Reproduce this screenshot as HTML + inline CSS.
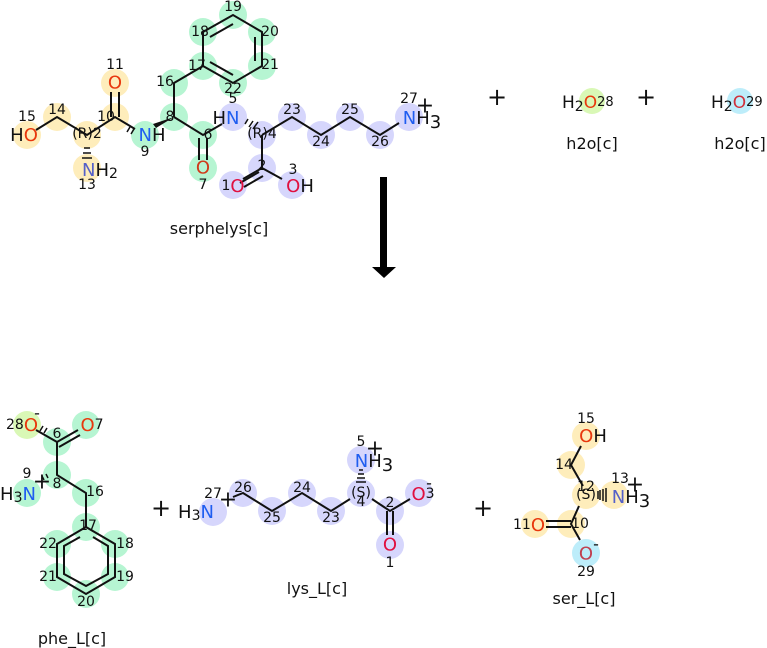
<!DOCTYPE html>
<html><head><meta charset="utf-8"><style>
html,body{margin:0;padding:0;background:#fff;}
svg{display:block;font-size:18px;}
text{font-family:"DejaVu Sans","Liberation Sans",sans-serif;}
.n{font-size:14px;fill:#111;text-anchor:middle;dominant-baseline:central;}
.a{text-anchor:middle;dominant-baseline:central;}
.lbl{font-size:16px;fill:#111;text-anchor:middle;}
.b{stroke:#111;stroke-width:2;fill:none;}
.y{fill:#feedbb;} .g{fill:#b6f5d2;} .p{fill:#d6d6fc;} .lg{fill:#d9f8b6;} .c{fill:#bdedfa;}
</style></head><body>
<svg width="767" height="648" viewBox="0 0 767 648" xmlns="http://www.w3.org/2000/svg">
<g>
<circle class="y" cx="27" cy="135" r="14"/><circle class="y" cx="57" cy="117" r="14"/><circle class="y" cx="87" cy="135" r="14"/>
<circle class="y" cx="87" cy="168" r="14"/><circle class="y" cx="115" cy="117" r="14"/><circle class="y" cx="115" cy="83" r="14"/>
<circle class="g" cx="145" cy="135" r="14"/><circle class="g" cx="174" cy="117" r="14"/><circle class="g" cx="174" cy="83" r="14"/>
<circle class="g" cx="203" cy="66" r="14"/><circle class="g" cx="203" cy="32" r="14"/><circle class="g" cx="233" cy="15" r="14"/>
<circle class="g" cx="262" cy="32" r="14"/><circle class="g" cx="262" cy="66" r="14"/><circle class="g" cx="233" cy="83" r="14"/>
<circle class="g" cx="203" cy="135" r="14"/><circle class="g" cx="203" cy="168" r="14"/>
<circle class="p" cx="233" cy="117" r="14"/><circle class="p" cx="262" cy="135" r="14"/><circle class="p" cx="262" cy="168" r="14"/>
<circle class="p" cx="233" cy="185" r="14"/><circle class="p" cx="292" cy="185" r="14"/><circle class="p" cx="292" cy="117" r="14"/>
<circle class="p" cx="321" cy="135" r="14"/><circle class="p" cx="350" cy="117" r="14"/><circle class="p" cx="380" cy="135" r="14"/>
<circle class="p" cx="409" cy="117" r="14"/>
<path class="b" d="M36 130 L57 117 L87 135 L115 117 L135 129 M174 117 L174 83 L203 66 L203 32 L233 15 L262 32 L262 66 L233 83 L203 66 M174 117 L203 135 L222 124 M262 135 L262 168 L243 179 M262 168 L282 179 M262 135 L292 117 L321 135 L350 117 L380 135 L399 123"/>
<path class="b" d="M111 117 L111 92 M119 117 L119 92 M199 138 L199 160 M207 138 L207 160 M210 37 L233 24 M255 37 L255 61 M233 75 L210 62 M259 172 L240 183 M263 176 L244 187"/>
<polygon points="174,117 156,128 153,124" fill="#111"/>
<path stroke="#111" stroke-width="1.5" d="M84 148h6M83 153h8M82 158h10M245 124l3-5M249 127l4-6M253 129l5-7M130 127l-3 5M134 129l-3 5"/>
<text class="n" x="57" y="110">14</text><text class="n" x="27" y="117">15</text>
<text class="a" x="24" y="135"><tspan fill="#111">H</tspan><tspan fill="#e8380d">O</tspan></text>
<text class="n" x="87" y="134" fill="#777">(R)2</text>
<text class="a" x="100" y="170"><tspan fill="#5561c8">N</tspan><tspan fill="#111">H</tspan><tspan fill="#111" font-size="14" dy="4">2</tspan></text>
<text class="n" x="87" y="185">13</text>
<text class="n" x="106" y="117">10</text><text class="n" x="115" y="65">11</text>
<text class="a" x="115" y="83" fill="#e8380d">O</text>
<text class="a" x="152" y="135"><tspan fill="#1f5df0">N</tspan><tspan fill="#111">H</tspan></text>
<text class="n" x="145" y="152">9</text><text class="n" x="170" y="117">8</text><text class="n" x="165" y="82">16</text>
<text class="n" x="197" y="66">17</text><text class="n" x="200" y="32">18</text><text class="n" x="233" y="7">19</text>
<text class="n" x="270" y="32">20</text><text class="n" x="270" y="65">21</text><text class="n" x="233" y="89">22</text>
<text class="n" x="208" y="135">6</text><text class="a" x="203" y="168" fill="#d03a1a">O</text><text class="n" x="203" y="185">7</text>
<text class="n" x="233" y="99">5</text>
<text class="a" x="226" y="118"><tspan fill="#111">H</tspan><tspan fill="#1f5df0">N</tspan></text>
<text class="n" x="262" y="134" fill="#555">(R)4</text><text class="n" x="262" y="166">2</text>
<text class="a" x="233" y="186"><tspan fill="#111" font-size="14">1</tspan><tspan fill="#e01040">O</tspan></text>
<text class="n" x="293" y="170">3</text>
<text class="a" x="300" y="186"><tspan fill="#e01040">O</tspan><tspan fill="#111">H</tspan></text>
<text class="n" x="292" y="110">23</text><text class="n" x="321" y="142">24</text><text class="n" x="350" y="110">25</text><text class="n" x="380" y="142">26</text>
<text class="n" x="409" y="99">27</text>
<text class="a" x="422" y="118"><tspan fill="#1f5df0">N</tspan><tspan fill="#111">H</tspan><tspan fill="#111" dy="4">3</tspan></text>
<text class="a" x="425" y="106" fill="#111" font-size="22">+</text>
<text class="lbl" x="219" y="234">serphelys[c]</text>
</g>
<text class="a" x="497" y="97" fill="#111" font-size="24">+</text>
<text class="a" x="646" y="97" fill="#111" font-size="24">+</text>
<circle class="lg" cx="592" cy="101" r="13"/><circle class="c" cx="740" cy="101" r="13"/>
<text x="562" y="108" font-size="17"><tspan fill="#111">H</tspan><tspan fill="#111" font-size="14" dy="3">2</tspan><tspan fill="#e8380d" dy="-3">O</tspan><tspan fill="#111" font-size="13" dy="-2">28</tspan></text>
<text x="711" y="108" font-size="17"><tspan fill="#111">H</tspan><tspan fill="#111" font-size="14" dy="3">2</tspan><tspan fill="#d0303a" dy="-3">O</tspan><tspan fill="#111" font-size="13" dy="-2">29</tspan></text>
<text class="lbl" x="592" y="149">h2o[c]</text><text class="lbl" x="740" y="149">h2o[c]</text>
<rect x="380" y="177" width="7" height="91" fill="#000"/>
<polygon points="372,267 396,267 384,278" fill="#000"/>
<circle class="lg" cx="27" cy="425" r="14"/><circle class="g" cx="86" cy="425" r="14"/><circle class="g" cx="57" cy="442" r="14"/>
<circle class="g" cx="57" cy="475" r="14"/><circle class="g" cx="27" cy="493" r="14"/><circle class="g" cx="86" cy="493" r="14"/>
<circle class="g" cx="86" cy="527" r="14"/><circle class="g" cx="115" cy="544" r="14"/><circle class="g" cx="115" cy="577" r="14"/>
<circle class="g" cx="86" cy="594" r="14"/><circle class="g" cx="57" cy="577" r="14"/><circle class="g" cx="57" cy="544" r="14"/>
<path class="b" d="M36 430 L57 442 L57 475 L86 493 L86 527 L115 544 L115 577 L86 594 L57 577 L57 544 L86 527 M57 442 L78 430 M59 447 L80 435 M93 537 L108 546 L108 574 L86 586 L64 574 L64 546 L80 537"/>
<path stroke="#111" stroke-width="1.5" d="M40 431l3-5M44 433l3-5M48 478l-2 -4M44 480l-2-4"/>
<text class="a" x="22" y="425"><tspan fill="#111" font-size="14">28</tspan><tspan fill="#e8380d">O</tspan></text>
<text class="a" x="37" y="413" fill="#111" font-size="16">-</text>
<text class="a" x="92" y="425"><tspan fill="#e8380d">O</tspan><tspan fill="#111" font-size="14">7</tspan></text>
<text class="n" x="57" y="434">6</text><text class="n" x="57" y="484">8</text><text class="n" x="27" y="474">9</text>
<text class="a" x="18" y="494"><tspan fill="#111">H</tspan><tspan fill="#111" font-size="14" dy="4">3</tspan><tspan fill="#1f5df0" dy="-4">N</tspan></text>
<text class="a" x="42" y="482" fill="#111" font-size="22">+</text>
<text class="n" x="95" y="492">16</text><text class="n" x="88" y="526">17</text><text class="n" x="125" y="544">18</text>
<text class="n" x="125" y="577">19</text><text class="n" x="86" y="602">20</text><text class="n" x="48" y="577">21</text><text class="n" x="48" y="544">22</text>
<text class="lbl" x="72" y="644">phe_L[c]</text>
<text class="a" x="161" y="508" fill="#111" font-size="24">+</text>
<circle class="p" cx="213" cy="512" r="14"/><circle class="p" cx="243" cy="493" r="14"/><circle class="p" cx="272" cy="511" r="14"/>
<circle class="p" cx="302" cy="493" r="14"/><circle class="p" cx="331" cy="511" r="14"/><circle class="p" cx="361" cy="493" r="14"/>
<circle class="p" cx="361" cy="460" r="14"/><circle class="p" cx="390" cy="511" r="14"/><circle class="p" cx="419" cy="493" r="14"/>
<circle class="p" cx="390" cy="545" r="14"/>
<path class="b" d="M233 497 L243 493 L272 511 L302 493 L331 511 L350 499 M372 499 L390 511 L410 499 M387 511 L387 535 M393 511 L393 535"/>
<path stroke="#111" stroke-width="1.5" d="M356 482h10M357 478h8M358 474h6M359 470h4"/>
<text class="a" x="196" y="512"><tspan fill="#111">H</tspan><tspan fill="#111" font-size="14" dy="4">3</tspan><tspan fill="#1f5df0" dy="-4">N</tspan></text>
<text class="n" x="213" y="494">27</text><text class="a" x="228" y="500" fill="#111" font-size="22">+</text>
<text class="n" x="243" y="488">26</text><text class="n" x="272" y="518">25</text><text class="n" x="302" y="488">24</text>
<text class="n" x="331" y="518">23</text><text class="n" x="361" y="493" fill="#555">(S)</text><text class="n" x="361" y="502">4</text>
<text class="n" x="390" y="503">2</text><text class="n" x="361" y="442">5</text>
<text class="a" x="374" y="461"><tspan fill="#1f5df0">N</tspan><tspan fill="#111">H</tspan><tspan fill="#111" dy="4">3</tspan></text>
<text class="a" x="375" y="449" fill="#111" font-size="22">+</text>
<text class="a" x="423" y="494"><tspan fill="#e01040">O</tspan><tspan fill="#111" font-size="14">3</tspan></text>
<text class="a" x="429" y="483" fill="#111" font-size="16">-</text>
<text class="a" x="390" y="545" fill="#e01040">O</text><text class="n" x="390" y="563">1</text>
<text class="lbl" x="317" y="594">lys_L[c]</text>
<text class="a" x="483" y="508" fill="#111" font-size="24">+</text>
<circle class="y" cx="586" cy="436" r="14"/><circle class="y" cx="571" cy="465" r="14"/><circle class="y" cx="586" cy="495" r="14"/>
<circle class="y" cx="614" cy="495" r="14"/><circle class="y" cx="571" cy="524" r="14"/><circle class="y" cx="535" cy="524" r="14"/>
<circle class="c" cx="586" cy="553" r="14"/>
<path class="b" d="M581 446 L571 465 L583 486 M579 506 L571 524 L580 540 M546 521 L571 521 M546 527 L571 527"/>
<path stroke="#111" stroke-width="1.5" d="M600 490v10M603 489v12M606 488v14M598 491v8"/>
<text class="n" x="586" y="419">15</text>
<text class="a" x="593" y="436"><tspan fill="#e8380d">O</tspan><tspan fill="#111">H</tspan></text>
<text class="n" x="564" y="465">14</text><text class="n" x="586" y="495" fill="#555">(S)</text><text class="n" x="586" y="487">12</text>
<text class="n" x="620" y="479">13</text>
<text class="a" x="631" y="497"><tspan fill="#5561c8">N</tspan><tspan fill="#111">H</tspan><tspan fill="#111" dy="4">3</tspan></text>
<text class="a" x="635" y="485" fill="#111" font-size="22">+</text>
<text class="a" x="529" y="525"><tspan fill="#111" font-size="14">11</tspan><tspan fill="#e8380d">O</tspan></text>
<text class="n" x="580" y="524">10</text>
<text class="a" x="586" y="554" fill="#c04050">O</text><text class="a" x="596" y="544" fill="#111" font-size="16">-</text>
<text class="n" x="586" y="572">29</text>
<text class="lbl" x="584" y="604">ser_L[c]</text>
</svg>
</body></html>
